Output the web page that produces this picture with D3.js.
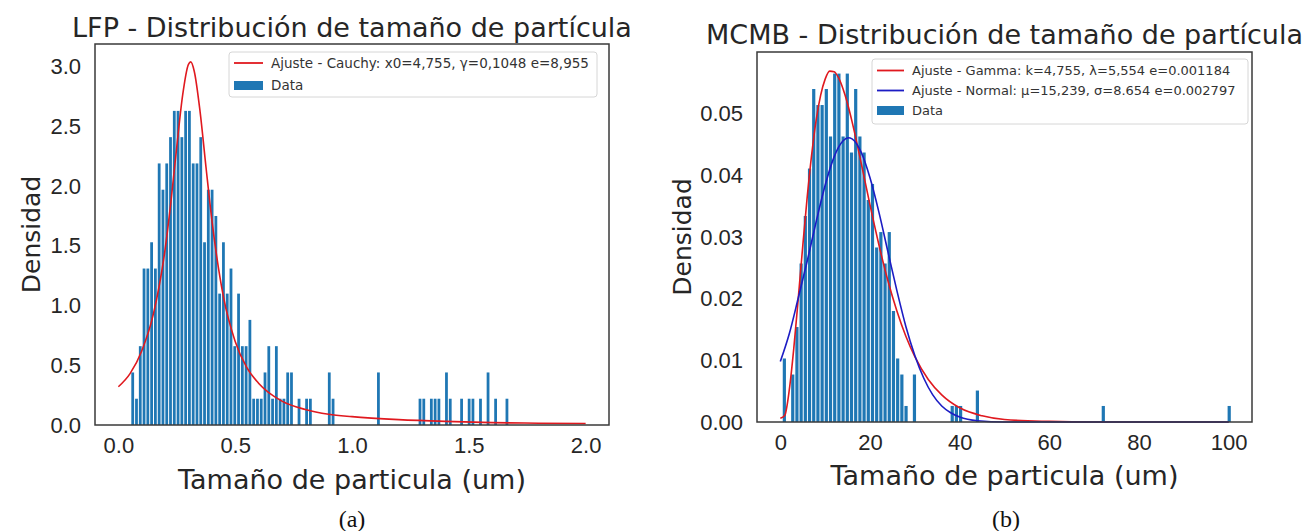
<!DOCTYPE html>
<meta charset="utf-8">
<style type="text/css">

body {
  margin: 0;
  background: #fff;
}

svg {
  font-family: "DejaVu Sans", sans-serif;
}

.frame {
  fill: none;
  stroke: #3a3a3a;
  stroke-width: 1.5;
}

.tick text {
  fill: #262626;
  font-size: 22px;
}

.bar {
  fill: #1f77b4;
}

.fit {
  fill: none;
  stroke-width: 1.6;
}

.legbox {
  fill: #fff;
  fill-opacity: 0.8;
  stroke: #d6d6d6;
  stroke-width: 1;
}

.legtext {
  fill: #333;
}

.caption {
  font-family: "Liberation Serif", "DejaVu Serif", serif;
  font-size: 24px;
  fill: #111;
}

</style>
<svg width="1316" height="531"></svg>
<script src="https://cdn.jsdelivr.net/npm/d3@7"></script>
<script>

// LFP histogram (density per bin, 100 bins)
var lfpBinStart = 0.0533,
    lfpBinWidth = 0.01618;
var lfpDensity = [
  0.44, 0.22, 0.66, 1.31, 1.31, 1.53, 1.31, 2.19, 1.97, 2.19,
  2.41, 2.63, 2.63, 2.41, 2.63, 2.63, 2.19, 2.19, 2.41, 1.53,
  1.97, 1.97, 1.75, 1.10, 1.53, 1.10, 1.31, 0.66, 1.10, 0.66,
  0.66, 0.88, 0.22, 0.22, 0.22, 0.44, 0.66, 0.22, 0.66, 0.22,
  0.22, 0.44, 0.44, 0, 0.22, 0, 0.22, 0.22, 0, 0,
  0, 0, 0.44, 0.22, 0, 0, 0, 0, 0, 0,
  0, 0, 0, 0, 0, 0.44, 0, 0, 0, 0,
  0, 0, 0, 0, 0, 0, 0.22, 0.22, 0, 0.22,
  0.22, 0.22, 0, 0.44, 0.22, 0, 0, 0.22, 0, 0.22,
  0.22, 0, 0.22, 0, 0.44, 0, 0.22, 0, 0, 0.22
];

// Cauchy fit, points
var cauchyX = [0, 0.05, 0.1, 0.15, 0.2, 0.225, 0.25, 0.275, 0.3, 0.31, 0.325, 0.35, 0.375, 0.4,
               0.45, 0.5, 0.55, 0.6, 0.7, 0.8, 0.9, 1.0, 1.2, 1.4, 1.6, 1.8, 2.0];
var cauchyY = [0.32, 0.43, 0.62, 0.93, 1.47, 1.87, 2.33, 2.76, 3.02, 3.04, 2.96, 2.62, 2.16, 1.72,
               1.07, 0.70, 0.48, 0.35, 0.20, 0.13, 0.09, 0.07, 0.045, 0.03, 0.02, 0.015, 0.012];

// MCMB histogram (density per bin, 107 bins)
var mcmbBinStart = 0.432,
    mcmbBinWidth = 0.936;
var mcmbDensity = [
  0.0103, 0, 0.0077, 0.0154, 0.0257, 0.0334, 0.0411, 0.0540, 0.0514, 0.0514,
  0.0540, 0.0463, 0.0565, 0.0565, 0.0463, 0.0565, 0.0437, 0.0540, 0.0463, 0.0437,
  0.0360, 0.0386, 0.0283, 0.0308, 0.0257, 0.0308, 0.0180, 0.0103, 0.0077, 0.0026,
  0, 0.0077, 0, 0, 0, 0, 0, 0, 0, 0,
  0.0026, 0.0026, 0.0026, 0, 0, 0, 0.0051, 0, 0, 0,
  0, 0, 0, 0, 0, 0, 0, 0, 0, 0,
  0, 0, 0, 0, 0, 0, 0, 0, 0, 0,
  0, 0, 0, 0, 0, 0, 0.0026, 0, 0, 0,
  0, 0, 0, 0, 0, 0, 0, 0, 0, 0,
  0, 0, 0, 0, 0, 0, 0, 0, 0, 0,
  0, 0, 0, 0, 0, 0, 0.0026
];

// Gamma and Normal fits
var gammaX = [0, 1, 2, 3, 4, 5, 6, 7, 8, 9, 10, 11, 12, 13, 14, 15, 16, 18, 20, 22, 24, 26, 28,
              30, 33, 36, 40, 45, 50, 60, 70, 80, 100];
var gammaY = [0.0006, 0.0011, 0.0052, 0.0119, 0.0200, 0.0285, 0.0365, 0.0434, 0.0490, 0.0530,
              0.0556, 0.0569, 0.0568, 0.0558, 0.0540, 0.0516, 0.0487, 0.0421, 0.0352, 0.0287,
              0.0229, 0.0180, 0.0139, 0.0106, 0.0069, 0.0044, 0.0023, 0.0010, 0.0004, 0.0001,
              0, 0, 0];
var normalX = [0, 2, 4, 6, 8, 10, 12, 14, 15.2, 16, 18, 20, 22, 24, 26, 28, 30, 32, 34, 36, 38,
               40, 44, 50, 60, 100];
var normalY = [0.0098, 0.0143, 0.0201, 0.0261, 0.0325, 0.0384, 0.0430, 0.0456, 0.0461, 0.0459,
               0.0438, 0.0396, 0.0340, 0.0276, 0.0213, 0.0155, 0.0108, 0.0071, 0.0044, 0.0026,
               0.0015, 0.0008, 0.0002, 0, 0, 0];

var lfpXTicks = [0, 0.5, 1.0, 1.5, 2.0],
    lfpYTicks = [0, 0.5, 1.0, 1.5, 2.0, 2.5, 3.0],
    mcmbXTicks = [0, 20, 40, 60, 80, 100],
    mcmbYTicks = [0, 0.01, 0.02, 0.03, 0.04, 0.05];

var svg = d3.select("svg");

var RED = "#e0191f",
    BLUE = "#1c1cc4",
    BAR = "#1f77b4";

function panel(p) {
  var x = d3.scaleLinear().domain(p.xDomain).range([p.left, p.right]);
  var y = d3.scaleLinear().domain(p.yDomain).range([p.bottom, p.top]);
  var g = svg.append("g");

  // bars
  var bins = p.density.map(function(d, i) {
    return { x0: p.binStart + i * p.binWidth, x1: p.binStart + (i + 1) * p.binWidth, v: d };
  }).filter(function(b) { return b.v > 0; });

  g.selectAll(".bar").data(bins).enter().append("rect")
    .attr("class", "bar")
    .attr("x", function(b) { return x(b.x0) + 0.5; })
    .attr("width", function(b) { return Math.max(1.4, x(b.x1) - x(b.x0) - 1); })
    .attr("y", function(b) { return y(b.v); })
    .attr("height", function(b) { return p.bottom - y(b.v); });

  // fitted curves
  var line = d3.line()
    .x(function(d) { return x(d[0]); })
    .y(function(d) { return y(d[1]); })
    .curve(d3.curveMonotoneX);

  p.curves.forEach(function(c) {
    g.append("path")
      .attr("class", "fit")
      .attr("stroke", c.color)
      .attr("d", line(d3.zip(c.xs, c.ys)));
  });

  // axes without tick marks
  var ax = g.append("g")
    .attr("transform", "translate(0," + p.bottom + ")")
    .call(d3.axisBottom(x).tickValues(p.xTicks).tickFormat(p.xFmt).tickSize(0).tickPadding(12));
  ax.select(".domain").remove();

  var ay = g.append("g")
    .attr("transform", "translate(" + p.left + ",0)")
    .call(d3.axisLeft(y).tickValues(p.yTicks).tickFormat(p.yFmt).tickSize(0).tickPadding(14));
  ay.select(".domain").remove();

  g.append("rect")
    .attr("class", "frame")
    .attr("x", p.left).attr("y", p.top)
    .attr("width", p.right - p.left).attr("height", p.bottom - p.top);

  // title and labels
  var cx = (p.left + p.right) / 2;
  g.append("text")
    .attr("x", cx).attr("y", p.titleY)
    .attr("text-anchor", "middle")
    .attr("font-size", 27)
    .attr("fill", "#262626")
    .text(p.title);

  g.append("text")
    .attr("x", cx).attr("y", p.xLabelY)
    .attr("text-anchor", "middle")
    .attr("font-size", 27)
    .attr("fill", "#262626")
    .text("Tamaño de particula (um)");

  g.append("text")
    .attr("transform", "translate(" + p.yLabelX + "," + ((p.top + p.bottom) / 2) + ") rotate(-90)")
    .attr("text-anchor", "middle")
    .attr("dy", "0.35em")
    .attr("font-size", 25)
    .attr("fill", "#262626")
    .text("Densidad");

  // legend
  var L = p.legend;
  var lg = g.append("g").attr("transform", "translate(" + L.x + "," + L.y + ")");
  lg.append("rect").attr("class", "legbox")
    .attr("width", L.w).attr("height", L.h).attr("rx", 3);

  L.items.forEach(function(it, i) {
    var cy = L.pad + i * L.row;
    if (it.type === "line") {
      lg.append("line")
        .attr("x1", 5).attr("x2", 5 + L.sw)
        .attr("y1", cy).attr("y2", cy)
        .attr("stroke", it.color).attr("stroke-width", 1.8);
    } else {
      lg.append("rect")
        .attr("x", 5).attr("y", cy - 4.5)
        .attr("width", L.sw).attr("height", 9)
        .attr("fill", it.color);
    }
    lg.append("text").attr("class", "legtext")
      .attr("x", L.sw + 13).attr("y", cy)
      .attr("dy", "0.35em")
      .attr("font-size", L.fs)
      .text(it.label);
  });

  svg.append("text").attr("class", "caption")
    .attr("x", p.captionX).attr("y", 527)
    .attr("text-anchor", "middle")
    .text(p.caption);
}

panel({
  left: 95, right: 609, top: 44, bottom: 425,
  xDomain: [-0.1, 2.1], yDomain: [0, 3.19],
  xTicks: lfpXTicks, yTicks: lfpYTicks,
  xFmt: d3.format(".1f"), yFmt: d3.format(".1f"),
  density: lfpDensity, binStart: lfpBinStart, binWidth: lfpBinWidth,
  curves: [{ xs: cauchyX, ys: cauchyY, color: RED }],
  title: "LFP - Distribución de tamaño de partícula", titleY: 37,
  xLabelY: 489, yLabelX: 31,
  caption: "(a)", captionX: 352,
  legend: {
    x: 229, y: 52, w: 368, h: 45, pad: 11, row: 22.5, sw: 29, fs: 13.5,
    items: [
      { type: "line", color: RED, label: "Ajuste - Cauchy: x0=4,755, γ=0,1048 e=8,955" },
      { type: "patch", color: BAR, label: "Data" }
    ]
  }
});

panel({
  left: 757, right: 1252, top: 52, bottom: 422,
  xDomain: [-5.2, 105.2], yDomain: [0, 0.06],
  xTicks: mcmbXTicks, yTicks: mcmbYTicks,
  xFmt: d3.format("d"), yFmt: d3.format(".2f"),
  density: mcmbDensity, binStart: mcmbBinStart, binWidth: mcmbBinWidth,
  curves: [{ xs: gammaX, ys: gammaY, color: RED }, { xs: normalX, ys: normalY, color: BLUE }],
  title: "MCMB - Distribución de tamaño de partícula", titleY: 44,
  xLabelY: 485, yLabelX: 682,
  caption: "(b)", captionX: 1006,
  legend: {
    x: 872, y: 59, w: 376, h: 65, pad: 11.5, row: 20, sw: 27, fs: 13,
    items: [
      { type: "line", color: RED, label: "Ajuste - Gamma: k=4,755, λ=5,554 e=0.001184" },
      { type: "line", color: BLUE, label: "Ajuste - Normal: μ=15,239, σ=8.654 e=0.002797" },
      { type: "patch", color: BAR, label: "Data" }
    ]
  }
});

</script>
